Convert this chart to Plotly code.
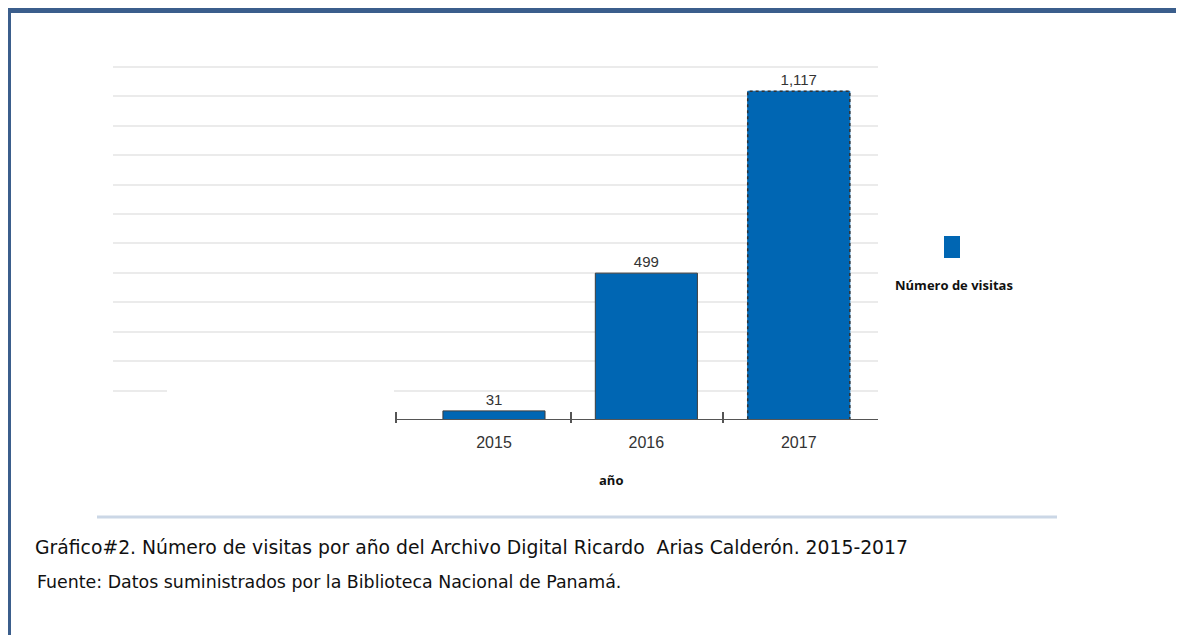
import plotly.graph_objects as go

# ---- data ----
years = [2015, 2016, 2017]
visits = [31, 499, 1117]
value_labels = ["31", "499", "1,117"]
tick_labels = ["2015", "2016", "2017"]
series_name = "Número de visitas"
x_title = "año"
caption = "Gráfico#2. Número de visitas por año del Archivo Digital Ricardo  Arias Calderón. 2015-2017"
source = "Fuente: Datos suministrados por la Biblioteca Nacional de Panamá."

W, H = 1184, 635
OFF = 8  # page body margin
L, R, T, B = 113, 878, 58, 420  # plot area in page pixels
Lf, Rf, Tf, Bf = L - OFF, R - OFF, T - OFF, B - OFF

def px(x):
    return (x - L) / (R - L)

def py(y):
    return (B - y) / (B - T)

BAR = "#0066B3"
BAR_W = 0.67
AX_FONT = "Liberation Sans, Arial, sans-serif"

fig = go.Figure()
fig.add_trace(go.Bar(
    x=years, y=visits, width=BAR_W, name=series_name,
    marker=dict(color=BAR, line=dict(color=["#3d3d3d", "#3d3d3d", BAR], width=1)),
    text=value_labels, textposition="outside", cliponaxis=False,
    textfont=dict(family=AX_FONT, size=15, color="#333333"),
    showlegend=False,
))

shapes = []
# dotted outline of the last bar
shapes.append(dict(type="rect", xref="x", yref="y",
                   x0=years[2] - BAR_W / 2, x1=years[2] + BAR_W / 2, y0=0, y1=visits[2],
                   line=dict(color="#333333", width=1.5, dash="dot"), layer="above"))
# white cover for gap in the 100 gridline
shapes.append(dict(type="line", xref="paper", yref="y", x0=px(167), x1=px(394),
                   y0=100, y1=100, line=dict(color="white", width=4), layer="above"))
# axis line
shapes.append(dict(type="line", xref="paper", yref="y", x0=px(396), x1=1,
                   y0=0, y1=0, line=dict(color="#555555", width=2)))
# ticks
for xv in [396, 571, 723]:
    shapes.append(dict(type="line", xref="paper", yref="paper", x0=px(xv), x1=px(xv),
                       y0=py(423), y1=py(412), line=dict(color="#555555", width=2)))
# legend square
shapes.append(dict(type="rect", xref="paper", yref="paper", x0=px(944), x1=px(960),
                   y0=py(258), y1=py(236), fillcolor=BAR, line=dict(width=0)))
# separator line
shapes.append(dict(type="line", xref="paper", yref="paper", x0=px(97), x1=px(1057),
                   y0=py(517), y1=py(517), line=dict(color="#CBD7E6", width=3)))
# frame border (top and left)
shapes.append(dict(type="line", xref="paper", yref="paper", x0=px(6), x1=px(1200),
                   y0=py(10.5), y1=py(10.5), line=dict(color="#3B5E8C", width=5)))
shapes.append(dict(type="line", xref="paper", yref="paper", x0=px(8.5), x1=px(8.5),
                   y0=py(8), y1=py(660), line=dict(color="#3B5E8C", width=5)))

annotations = [
    dict(text=series_name, xref="paper", yref="paper", x=px(954), y=py(285),
         showarrow=False, xanchor="center", yanchor="middle",
         font=dict(family="Open Sans, sans-serif", size=13, color="#111111", weight="bold")),
    dict(text=x_title, xref="paper", yref="paper", x=px(611), y=py(480),
         showarrow=False, xanchor="center", yanchor="middle",
         font=dict(family="Open Sans, sans-serif", size=13, color="#111111", weight="bold")),
    dict(text=caption, xref="paper", yref="paper", x=px(33), y=py(547),
         showarrow=False, xanchor="left", yanchor="middle",
         font=dict(family="DejaVu Sans, sans-serif", size=18.8, color="#111111")),
    dict(text=source, xref="paper", yref="paper", x=px(35), y=py(582),
         showarrow=False, xanchor="left", yanchor="middle",
         font=dict(family="DejaVu Sans, sans-serif", size=17.4, color="#111111")),
]

fig.update_layout(
    width=W, height=H,
    margin=dict(l=Lf, r=W - Rf, t=Tf, b=H - Bf, pad=0),
    paper_bgcolor="white", plot_bgcolor="white",
    shapes=shapes, annotations=annotations,
    showlegend=False,
    xaxis=dict(range=[2012.5, 2017.52], tickvals=years, ticktext=tick_labels,
               showgrid=False, zeroline=False, showline=False, ticks="",
               tickfont=dict(family=AX_FONT, size=16, color="#333333"), ticklabelstandoff=11),
    yaxis=dict(range=[0, 1230], dtick=100, tick0=0, showgrid=True, gridcolor="#EBEBEB",
               gridwidth=2, zeroline=False, showticklabels=False, showline=False, ticks=""),
)

fig.write_html("out.html")
